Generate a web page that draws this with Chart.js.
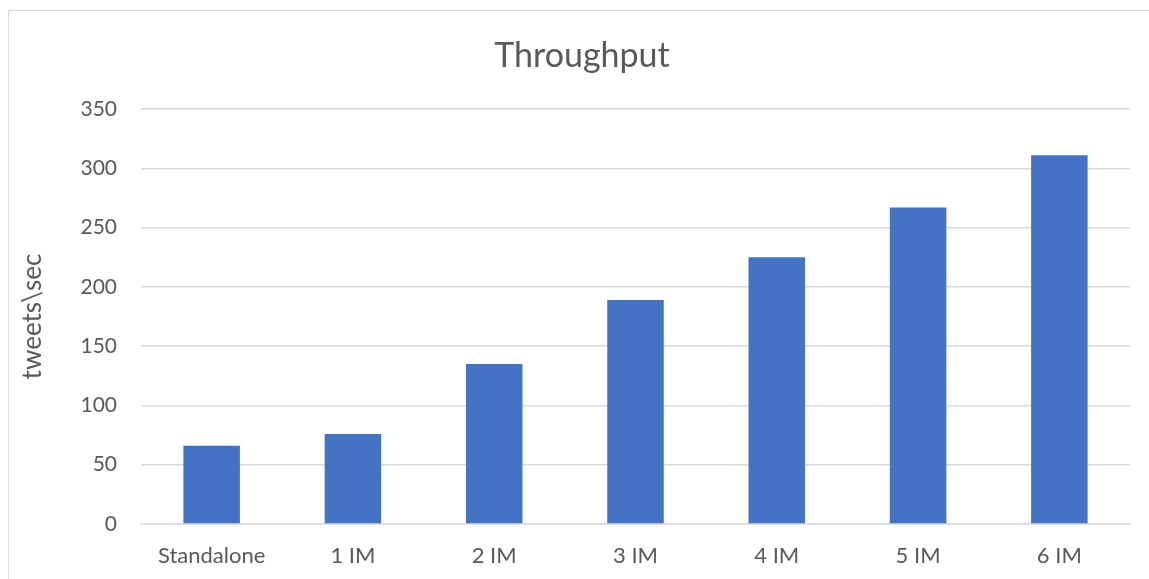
<!DOCTYPE html>
<html>
<head>
<meta charset="utf-8">
<script src="https://cdn.jsdelivr.net/npm/chart.js@4"></script>
<style>
  html, body { margin: 0; padding: 0; background: #ffffff; overflow: hidden; }
  #frame { position: absolute; left: 8px; top: 10px; width: 2000px; height: 2000px;
           border-left: 1.5px solid #d9d9d9; border-top: 1.5px solid #d9d9d9; box-sizing: border-box; }
  #wrap { position: absolute; left: 0; top: 0; width: 1149px; height: 579px; }
</style>
</head>
<body>
<div id="frame"></div>
<div id="wrap"><canvas id="c" width="1149" height="579"></canvas></div>
<script>
const categories = ["Standalone", "1 IM", "2 IM", "3 IM", "4 IM", "5 IM", "6 IM"];
const throughput = [66, 76, 135, 189, 225, 267, 311];
const yTicks = [0, 50, 100, 150, 200, 250, 300, 350];

const FONT = "Lato, 'Open Sans', sans-serif";
const TEXT = "#595959";

new Chart(document.getElementById("c"), {
  type: "bar",
  data: {
    labels: categories,
    datasets: [{
      label: "Throughput",
      data: throughput,
      backgroundColor: "#4472C4",
      borderWidth: 0,
      barPercentage: 0.4,
      categoryPercentage: 1.0
    }]
  },
  options: {
    responsive: false,
    animation: false,
    devicePixelRatio: 1,
    layout: { padding: { left: 34, right: 19, top: 0, bottom: 0 } },
    plugins: {
      legend: { display: false },
      tooltip: { enabled: false },
      title: {
        display: true,
        text: "Throughput",
        color: TEXT,
        font: { family: FONT, size: 34, weight: "normal" },
        padding: { top: 36, bottom: 32.2 }
      }
    },
    scales: {
      x: {
        afterFit: (scale) => { scale.height = 55; },
        grid: { display: false, drawTicks: false },
        border: { display: true, color: "#d9d9d9", width: 1.5 },
        ticks: { color: TEXT, font: { family: FONT, size: 22 }, padding: 19 }
      },
      y: {
        min: 0,
        max: 350,
        afterBuildTicks: (scale) => { scale.ticks = yTicks.map(v => ({ value: v })); },
        afterFit: (scale) => { scale.width = 107; },
        grid: { color: "#d9d9d9", lineWidth: 1.5, drawTicks: false },
        border: { display: false },
        ticks: { color: TEXT, font: { family: FONT, size: 21 }, padding: 24 },
        title: {
          display: true,
          text: "tweets\\sec",
          color: TEXT,
          font: { family: FONT, size: 26 },
          padding: { top: -17, bottom: 0 }
        }
      }
    }
  }
});
</script>
</body>
</html>
